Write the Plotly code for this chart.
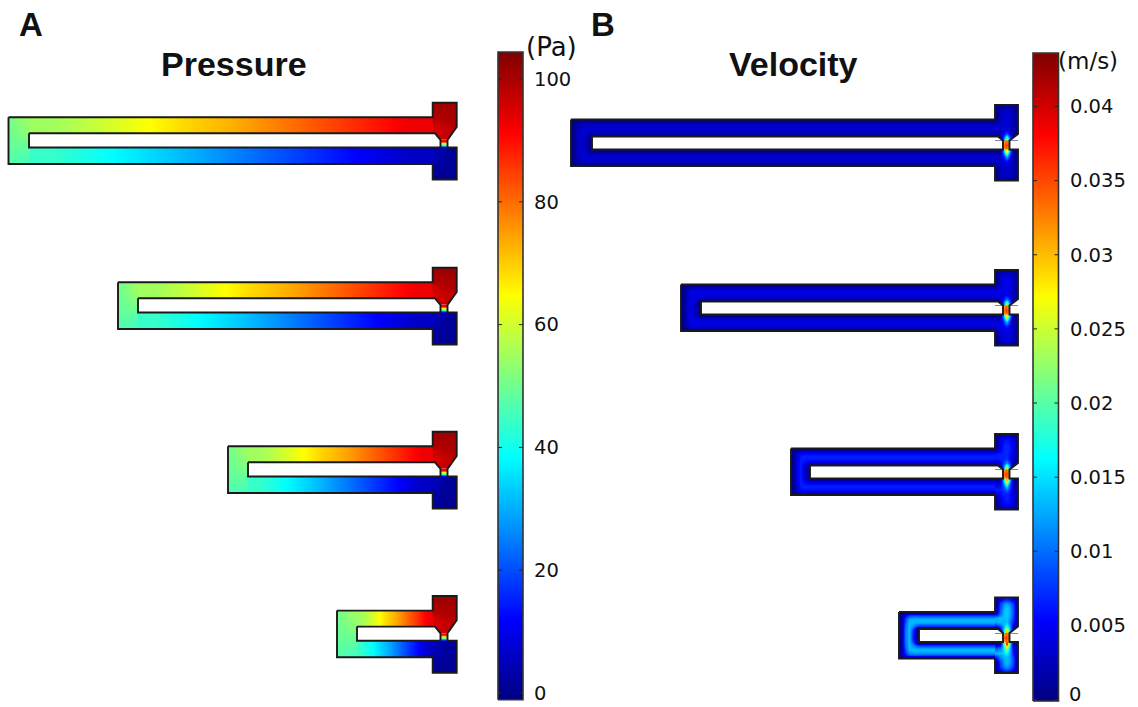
import numpy as np
import plotly.graph_objects as go

# ---------- colour scale ----------
JET = [[0, "#00007f"], [0.125, "#0000ff"], [0.375, "#00ffff"],
       [0.625, "#ffff00"], [0.875, "#ff0000"], [1, "#7f0000"]]
P_MIN, P_MAX = -1.1, 104.4
V_MIN, V_MAX = -0.0001, 0.0436

# ---------- tick labels ----------
P_TICKS = [0, 20, 40, 60, 80, 100]
V_TICKS = [0, 0.005, 0.01, 0.015, 0.02, 0.025, 0.03, 0.035, 0.04]
V_LABELS = ["0", "0.005", "0.01", "0.015", "0.02", "0.025", "0.03", "0.035", "0.04"]

# ---------- pressure field values (Pa) ----------
P_TOP_ARM = [55, 59, 64, 69, 73, 78, 83, 88, 93]
P_BOTTOM_ARM = [44, 40, 35.5, 31, 26, 21, 16, 11, 6]
P_BEND = [[51, 54], [50, 52], [49, 49], [47, 46]]
P_RES_TOP = [[101, 101, 101], [100, 100, 100], [98, 99, 100], [95, 97, 98], [96, 97, 97]]
P_RES_BOT = [[5, 2, 2], [4, 2, 2], [2, 1.5, 1.5], [1, 1, 1]]
P_NECK = [[92, 92], [68, 75], [52, 60], [38, 42], [12, 12]]

# ---------- velocity field values (m/s, relative to channel peak) ----------
V_PEAK = [0.0034, 0.0044, 0.0067, 0.0135]
V_ARM_PROFILE = [0.05, 0.62, 0.9, 1, 0.9, 0.62, 0.05]
V_BEND = [[.03, .05, .08, .08, .08], [.04, .38, .62, .66, .66], [.04, .55, .86, .92, .92],
          [.04, .6, .98, 1, 1], [.04, .65, 1, .95, .9], [.04, .7, 1, .85, .66], [.04, .72, 1, .7, .1],
          [.04, .75, 1, .5, .06], [.04, .75, .98, .45, .06], [.04, .75, 1, .5, .06],
          [.04, .72, 1, .7, .1], [.04, .7, 1, .85, .66], [.04, .65, 1, .95, .9], [.04, .6, .98, 1, 1],
          [.04, .55, .86, .92, .92], [.04, .38, .62, .66, .66], [.03, .05, .08, .08, .08]]
V_RES_TOP = [[.1, .3, .45, .5, .45, .3, .1], [.1, .6, .85, .95, .85, .6, .1],
             [.1, .65, .95, 1.05, .95, .65, .1], [.25, .7, 1, 1.05, .95, .65, .1],
             [.95, 1, 1, 1.05, .9, .6, .1], [.95, 1, .95, .95, .8, .5, .1],
             [.3, .6, .75, .8, .7, .3, .05], [0, .1, .5, .9, .5, .1, 0]]
V_RES_TOP_JET = [[0] * 7, [0] * 7, [0] * 7, [0] * 7, [0] * 7, [0, 0, 0, .001, 0, 0, 0],
                 [0, 0, .003, .007, .003, 0, 0], [0, .001, .008, .02, .008, .001, 0]]
V_RES_BOT = [[.1, .15, .5, .9, .5, .15, .05], [.7, .8, .85, .9, .7, .4, .1],
             [1, 1, 1, 1, .85, .5, .1], [.5, .8, .95, 1, .9, .6, .1],
             [.1, .6, .9, 1, .9, .6, .1], [.1, .55, .8, .9, .8, .55, .1],
             [.1, .3, .45, .5, .45, .3, .1]]
V_RES_BOT_JET = [[0, .001, .011, .027, .011, .001, 0], [0, 0, .004, .011, .004, 0, 0],
                 [0, 0, .001, .003, .001, 0, 0], [0] * 7, [0] * 7, [0] * 7, [0] * 7]
V_NECK = [[.032, .034, .032], [.034, .036, .034], [.032, .034, .032]]

# ---------- device geometry as seen in the picture ----------
A_LEFT = [8.5, 118, 228, 337]
A_INNER = [29, 138, 248, 357]
A_SHIFT = [0, 165, 329, 493.3]
B_LEFT = [571, 681, 791, 899]
B_INNER = [592, 701, 810, 919]
B_SHIFT = [0, 165, 329, 492.5]
A_GEOM = dict(res_l=432.7, res_r=456.7, res_t=102.7, arm_t=117.3, slot_t=133.3, neck_t=140,
              neck_b=147.5, arm_b=164, res_b=179.5, neck_l=440.5, neck_r=447.5, ch_y=127, ch_x=435)
B_GEOM = dict(res_l=995, res_r=1018, res_t=105, arm_t=119.5, slot_t=136.5, neck_t=140.5,
              neck_b=149.5, arm_b=166, res_b=180.5, neck_l=1003, neck_r=1009.5, ch_y=134, ch_x=998)

INK = "#1a1a1a"
fig = go.Figure()


def heat(xe, ye, z, ca, yaxis="y"):
    fig.add_trace(go.Heatmap(x=list(xe), y=list(ye), z=np.asarray(z, float).tolist(), coloraxis=ca,
                             zsmooth="best", hoverinfo="skip", yaxis=yaxis, xaxis="x"))


def edges(a, b, n):
    return np.linspace(a, b, n + 1)


def outline(L, IL, g, dy):
    xs = [L, g["res_l"], g["res_l"], g["res_r"], g["res_r"], g["neck_r"], g["neck_r"], g["res_r"],
          g["res_r"], g["res_l"], g["res_l"], L, L, None,
          IL, g["ch_x"], g["neck_l"], g["neck_l"], IL, IL]
    ys = [g["arm_t"], g["arm_t"], g["res_t"], g["res_t"], g["ch_y"], g["neck_t"], g["neck_b"], g["neck_b"],
          g["res_b"], g["res_b"], g["arm_b"], g["arm_b"], g["arm_t"], None,
          g["slot_t"], g["slot_t"], g["neck_t"], g["neck_b"], g["neck_b"], g["slot_t"]]
    ys = [None if v is None else v + dy for v in ys]
    # white corners cut off the rectangular reservoir cells
    fig.add_trace(go.Scatter(
        x=[g["res_l"] - .5, g["ch_x"], g["neck_l"], g["res_l"] - .5, g["res_l"] - .5, None,
           g["res_r"] + .5, g["neck_r"], g["res_r"] + .5, g["res_r"] + .5],
        y=[v if v is None else v + dy for v in
           [g["slot_t"], g["slot_t"], g["neck_t"], g["neck_t"], g["slot_t"], None,
            g["ch_y"], g["neck_t"], g["neck_t"], g["ch_y"]]],
        mode="none", fill="toself", fillcolor="white", hoverinfo="skip"))
    fig.add_trace(go.Scatter(x=xs, y=ys, mode="lines", line=dict(color=INK, width=1.9), hoverinfo="skip"))


# ---------- panel A ----------
g = A_GEOM
for L, IL, d in zip(A_LEFT, A_INNER, A_SHIFT):
    heat(edges(IL, g["res_l"], 9), edges(g["arm_t"] + d, g["slot_t"] + d, 2), [P_TOP_ARM, P_TOP_ARM], "coloraxis")
    heat(edges(IL, g["res_l"], 9), edges(g["neck_b"] + d, g["arm_b"] + d, 2), [P_BOTTOM_ARM, P_BOTTOM_ARM], "coloraxis")
    heat(edges(L, IL, 2), edges(g["arm_t"] + d, g["arm_b"] + d, 4), P_BEND, "coloraxis")
    heat(edges(g["res_l"], g["res_r"], 3), edges(g["res_t"] + d, g["neck_t"] + d, 5), P_RES_TOP, "coloraxis")
    heat(edges(g["res_l"], g["res_r"], 3), edges(g["neck_b"] + d, g["res_b"] + d, 4), P_RES_BOT, "coloraxis")
    heat(edges(g["neck_l"], g["neck_r"], 2), edges(g["neck_t"] + d, g["neck_b"] + d, 5), P_NECK, "coloraxis")
    outline(L, IL, g, d)

# ---------- panel B ----------
g = B_GEOM
for L, IL, d, pk in zip(B_LEFT, B_INNER, B_SHIFT, V_PEAK):
    arm = np.array([[v, v] for v in V_ARM_PROFILE]) * pk
    heat(edges(IL, g["res_l"], 2), edges(g["arm_t"] + d, g["slot_t"] + d, 7), arm, "coloraxis2")
    heat(edges(IL, g["res_l"], 2), edges(g["neck_b"] + d, g["arm_b"] + d, 7), arm, "coloraxis2")
    ye = np.concatenate([edges(g["arm_t"], g["slot_t"], 7), edges(g["slot_t"], g["neck_b"], 3)[1:],
                         edges(g["neck_b"], g["arm_b"], 7)[1:]]) + d
    heat(edges(L, IL, 5), ye, np.array(V_BEND) * pk, "coloraxis2")
    heat(edges(g["res_l"], g["res_r"], 7), edges(g["res_t"] + d, g["neck_t"] + d, 8),
         np.array(V_RES_TOP) * pk + np.array(V_RES_TOP_JET), "coloraxis2")
    heat(edges(g["res_l"], g["res_r"], 7), edges(g["neck_b"] + d, g["res_b"] + d, 7),
         np.array(V_RES_BOT) * pk + np.array(V_RES_BOT_JET), "coloraxis2")
    heat(edges(g["neck_l"], g["neck_r"], 3), edges(g["neck_t"] + d, g["neck_b"] + d, 3), V_NECK, "coloraxis2")
    outline(L, IL, g, d)


# ---------- colour bars, drawn on their own value axes ----------
def bar(x0, x1, vmin, vmax, ticks, ca, yaxis):
    lv = np.linspace(vmin, vmax, 129)
    heat([x0, (x0 + x1) / 2, x1], lv, [[v, v] for v in (lv[:-1] + lv[1:]) / 2], ca, yaxis)
    tx, ty = [], []
    for t in ticks:
        tx += [x0, x0 + 4, None, x1 - 4, x1, None]
        ty += [t, t, None, t, t, None]
    fig.add_trace(go.Scatter(x=tx, y=ty, mode="lines", line=dict(color="#222", width=1),
                             yaxis=yaxis, xaxis="x", hoverinfo="skip"))
    fig.add_trace(go.Scatter(x=[x0, x1, x1, x0, x0], y=[vmin, vmin, vmax, vmax, vmin], mode="lines",
                             line=dict(color="#333", width=1.6), yaxis=yaxis, xaxis="x", hoverinfo="skip"))


bar(498, 523, P_MIN, P_MAX, P_TICKS, "coloraxis", "y2")
bar(1033, 1058.5, V_MIN, V_MAX, V_TICKS, "coloraxis2", "y3")

TICK_FONT = dict(family="DejaVu Sans", size=19.5, color="#111")
HEAD = "Liberation Sans"
fig.update_layout(
    width=1138, height=707, margin=dict(l=0, r=0, t=0, b=0), autosize=False,
    paper_bgcolor="white", plot_bgcolor="white", showlegend=False,
    coloraxis=dict(colorscale=JET, cmin=P_MIN, cmax=P_MAX, showscale=False),
    coloraxis2=dict(colorscale=JET, cmin=V_MIN, cmax=V_MAX, showscale=False),
    xaxis=dict(range=[0, 1138], visible=False, fixedrange=True),
    yaxis=dict(range=[707, 0], visible=False, fixedrange=True),
    yaxis2=dict(overlaying="y", anchor="free", position=533 / 1138, side="right",
                range=[-(707 - 693) / 6.14, 693 / 6.14], tickvals=P_TICKS, ticktext=[str(t) for t in P_TICKS],
                showgrid=False, zeroline=False, showline=False, ticks="", tickfont=TICK_FONT, fixedrange=True),
    # the "0" would overflow the page and the axis would drop it, so it is an annotation below
    yaxis3=dict(overlaying="y", anchor="free", position=1069 / 1138, side="right",
                range=[-(707 - 699.5) / 14825, 699.5 / 14825], tickvals=V_TICKS[1:], ticktext=V_LABELS[1:],
                showgrid=False, zeroline=False, showline=False, ticks="", tickfont=TICK_FONT, fixedrange=True),
    annotations=[
        dict(x=x, y=y, xref="x", yref="y", text=t, showarrow=False, xanchor=xa, yanchor="middle", font=f)
        for x, y, t, xa, f in [
            (233.5, 64, "<b>Pressure</b>", "center", dict(family=HEAD, size=34, color="#111")),
            (793, 64, "<b>Velocity</b>", "center", dict(family=HEAD, size=34, color="#111")),
            (31, 24, "<b>A</b>", "center", dict(family=HEAD, size=33, color="#111")),
            (603, 24, "<b>B</b>", "center", dict(family=HEAD, size=33, color="#111")),
            (524, 47, "(Pa)", "left", dict(family="DejaVu Sans", size=26, color="#111")),
            (1056, 61, "(m/s)", "left", dict(family="DejaVu Sans", size=23, color="#111")),
            (1067, 694, V_LABELS[0], "left", TICK_FONT),
        ]
    ],
)
# the page's default 8 px body margin would shift the whole figure
fig.write_html("out.html", config=dict(displayModeBar=False),
               post_script="document.body.style.margin='0';document.body.style.overflow='hidden';")
